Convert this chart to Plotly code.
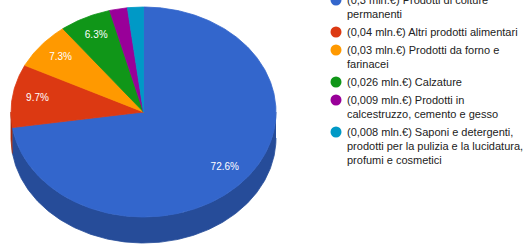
import math
import plotly.graph_objects as go

# ---- data ----
values = [0.3, 0.04, 0.03, 0.026, 0.009, 0.008]
value_labels = ["0,3", "0,04", "0,03", "0,026", "0,009", "0,008"]
categories = [
    "Prodotti di colture permanenti",
    "Altri prodotti alimentari",
    "Prodotti da forno e farinacei",
    "Calzature",
    "Prodotti in calcestruzzo, cemento e gesso",
    "Saponi e detergenti, prodotti per la pulizia e la lucidatura, profumi e cosmetici",
]
legend_lines = [
    ["(0,3 mln.€) Prodotti di colture", "permanenti"],
    ["(0,04 mln.€) Altri prodotti alimentari"],
    ["(0,03 mln.€) Prodotti da forno e", "farinacei"],
    ["(0,026 mln.€) Calzature"],
    ["(0,009 mln.€) Prodotti in", "calcestruzzo, cemento e gesso"],
    ["(0,008 mln.€) Saponi e detergenti,", "prodotti per la pulizia e la lucidatura,", "profumi e cosmetici"],
]
colors = ["#3366cc", "#dc3912", "#ff9900", "#109618", "#990099", "#0099c6"]

# ---- layout geometry ----
W, H = 531, 244
cx, cy, rx, ry, depth = 143.5, 112, 132.5, 105, 26
label_r = 0.81


def darker(hexc, f=0.75):
    r, g, b = int(hexc[1:3], 16), int(hexc[3:5], 16), int(hexc[5:7], 16)
    return "#%02x%02x%02x" % (int(r * f), int(g * f), int(b * f))


def pt(t, dy=0.0):
    return cx + rx * math.sin(t), cy - ry * math.cos(t) + dy


fig = go.Figure()
total = sum(values)
angles = []
acc = 0.0
for v in values:
    a0 = acc / total * 2 * math.pi
    acc += v
    a1 = acc / total * 2 * math.pi
    angles.append((a0, a1))

# side walls (front half only: pi/2 .. 3pi/2)
for (a0, a1), c in zip(angles, colors):
    s0, s1 = max(a0, math.pi / 2), min(a1, 3 * math.pi / 2)
    if s1 <= s0:
        continue
    n = max(4, int((s1 - s0) * 80))
    ts = [s0 + (s1 - s0) * i / n for i in range(n + 1)]
    xs = [pt(t)[0] for t in ts] + [pt(t, depth)[0] for t in reversed(ts)]
    ys = [pt(t)[1] for t in ts] + [pt(t, depth)[1] for t in reversed(ts)]
    dc = darker(c)
    fig.add_trace(go.Scatter(x=xs, y=ys, fill="toself", fillcolor=dc, mode="lines",
                             line=dict(color=dc, width=0.8), hoverinfo="skip", showlegend=False))

# top faces
for (a0, a1), c, name in zip(angles, colors, categories):
    n = max(4, int((a1 - a0) * 80))
    ts = [a0 + (a1 - a0) * i / n for i in range(n + 1)]
    xs = [cx] + [pt(t)[0] for t in ts] + [cx]
    ys = [cy] + [pt(t)[1] for t in ts] + [cy]
    fig.add_trace(go.Scatter(x=xs, y=ys, fill="toself", fillcolor=c, mode="lines",
                             line=dict(color=c, width=0.8), name=name, hoverinfo="name",
                             showlegend=False))

# percentage labels
lx, ly, lt = [], [], []
for (a0, a1), v in zip(angles, values):
    pct = v / total * 100
    if pct < 5:
        continue
    m = (a0 + a1) / 2
    lx.append(cx + label_r * rx * math.sin(m))
    ly.append(cy - label_r * ry * math.cos(m))
    lt.append("%.1f%%" % pct)
fig.add_trace(go.Scatter(x=lx, y=ly, text=lt, mode="text",
                         textfont=dict(family="Liberation Sans, Arial", size=10, color="white"),
                         hoverinfo="skip", showlegend=False))

# legend
leg_x_dot, leg_x_text = 336, 345
line_h, gap = 14, 4
y = 0
dot_x, dot_y = [], []
annotations = []
for lines in legend_lines:
    dot_x.append(leg_x_dot)
    dot_y.append(y)
    for j, ln in enumerate(lines):
        annotations.append(dict(x=leg_x_text, y=y + j * line_h, xref="x", yref="y", text=ln,
                                showarrow=False, xanchor="left", yanchor="middle",
                                font=dict(family="Liberation Sans, Arial", size=11, color="#222222")))
    y += len(lines) * line_h + gap
fig.add_trace(go.Scatter(x=dot_x, y=dot_y, mode="markers",
                         marker=dict(size=11, color=colors, line=dict(width=0)),
                         hoverinfo="skip", showlegend=False))

fig.update_layout(
    width=W, height=H, margin=dict(l=0, r=0, t=0, b=0),
    paper_bgcolor="white", plot_bgcolor="white",
    xaxis=dict(range=[0, W], visible=False, fixedrange=True),
    yaxis=dict(range=[H, 0], visible=False, fixedrange=True),
    annotations=annotations, showlegend=False,
)
fig.write_html("out.html", config={"displayModeBar": False},
               post_script="document.body.style.margin='0';document.body.style.overflow='hidden';")
